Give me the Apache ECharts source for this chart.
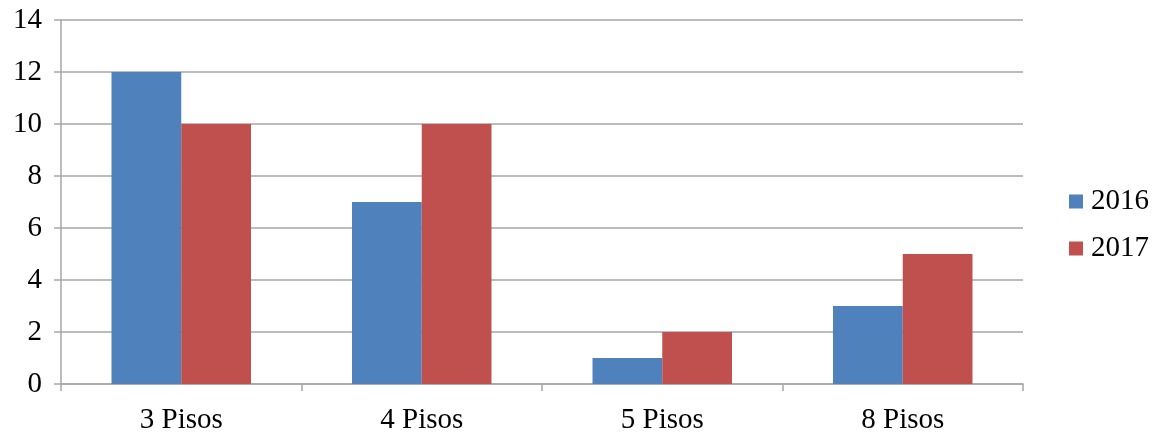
<!DOCTYPE html>
<html>
<head>
<meta charset="utf-8">
<script src="https://cdn.jsdelivr.net/npm/echarts@6/dist/echarts.min.js"></script>
<style>
  html, body { margin: 0; padding: 0; background: #fff; }
  #chart { width: 1158px; height: 439px; }
</style>
</head>
<body>
<div id="chart"></div>
<script>
// Buildings by number of floors, per year
const categories = ['3 Pisos', '4 Pisos', '5 Pisos', '8 Pisos'];
const seriesNames = ['2016', '2017'];
const values2016 = [12, 7, 1, 3];
const values2017 = [10, 10, 2, 5];
const yTicks = { min: 0, max: 14, interval: 2 };

const fontFamily = '"Liberation Serif", "DejaVu Serif", serif';
const axisGrey = '#a6a6a6';
const chart = echarts.init(document.getElementById('chart'));

chart.setOption({
  animation: false,
  textStyle: { fontFamily: fontFamily },
  grid: { left: 61, right: 135, top: 20, bottom: 55 },
  legend: {
    orient: 'vertical',
    left: 1064,
    top: 179,
    itemWidth: 14,
    itemHeight: 14,
    itemGap: 12,
    icon: 'rect',
    textStyle: {
      fontFamily: fontFamily, fontSize: 29, color: '#000',
      lineHeight: 29, padding: [6, 0, 0, 3]
    },
    data: seriesNames
  },
  xAxis: {
    type: 'category',
    data: categories,
    axisLine: { lineStyle: { color: axisGrey, width: 1.5 } },
    axisTick: { show: true, length: 7, lineStyle: { color: axisGrey, width: 1.5 } },
    axisLabel: { fontFamily: fontFamily, fontSize: 29, color: '#000', margin: 22 }
  },
  yAxis: {
    type: 'value',
    min: yTicks.min,
    max: yTicks.max,
    interval: yTicks.interval,
    axisLine: { show: true, lineStyle: { color: axisGrey, width: 1.5 } },
    axisTick: { show: true, length: 7, lineStyle: { color: axisGrey, width: 1.5 } },
    splitLine: { lineStyle: { color: axisGrey, width: 1.5 } },
    axisLabel: {
      fontFamily: fontFamily, fontSize: 29, color: '#000',
      margin: 19, padding: [8, 0, 0, 0]
    }
  },
  series: [
    {
      name: seriesNames[0],
      type: 'bar',
      data: values2016,
      barGap: '0%',
      barCategoryGap: '42%',
      itemStyle: { color: '#4F81BD' }
    },
    {
      name: seriesNames[1],
      type: 'bar',
      data: values2017,
      itemStyle: { color: '#C0504D' }
    }
  ]
});
</script>
</body>
</html>
